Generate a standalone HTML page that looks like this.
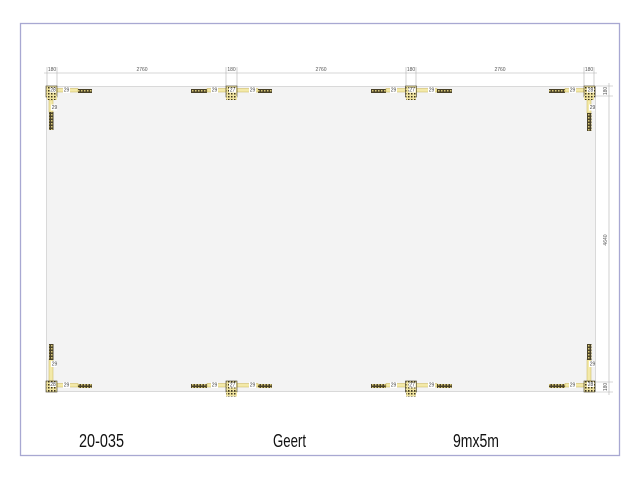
<!DOCTYPE html>
<html>
<head>
<meta charset="utf-8">
<style>
html,body{margin:0;padding:0;background:#fff;}
svg{display:block;}
text{font-family:"Liberation Sans",sans-serif;}
</style>
</head>
<body>
<svg width="640" height="480" viewBox="0 0 640 480" xmlns="http://www.w3.org/2000/svg">
<defs>
  <pattern id="hatch" width="3" height="3" patternUnits="userSpaceOnUse">
    <rect width="3" height="3" fill="#4a4228"/>
    <rect x="0" y="0" width="1.5" height="1.5" fill="#d8c878"/>
  </pattern>
  <pattern id="hatch2" width="3" height="3" patternUnits="userSpaceOnUse">
    <rect width="3" height="3" fill="#f0e4a0"/>
    <rect x="0" y="0" width="1.5" height="1.5" fill="#3d3620"/>
  </pattern>
</defs>

<rect x="20.5" y="23.5" width="599" height="432" fill="#fff" stroke="#a8a8d2" stroke-width="1.3"/>

<rect x="46.5" y="86.5" width="549" height="305" fill="#f3f3f3" stroke="#d9d9d9" stroke-width="1"/>

<g stroke="#b0b0b0" stroke-width="0.6" fill="none">
  <line x1="44" y1="73" x2="597" y2="73"/>
  <line x1="47" y1="67" x2="47" y2="86"/>
  <line x1="57" y1="67" x2="57" y2="86"/>
  <line x1="226" y1="67" x2="226" y2="86"/>
  <line x1="237" y1="67" x2="237" y2="86"/>
  <line x1="406" y1="67" x2="406" y2="86"/>
  <line x1="416" y1="67" x2="416" y2="86"/>
  <line x1="584" y1="67" x2="584" y2="86"/>
  <line x1="594" y1="67" x2="594" y2="86"/>
</g>
<g font-size="5" fill="#555" text-anchor="middle">
  <text x="52" y="71">180</text>
  <text x="142" y="71">2760</text>
  <text x="231.5" y="71">180</text>
  <text x="321" y="71">2760</text>
  <text x="411" y="71">180</text>
  <text x="500" y="71">2760</text>
  <text x="589" y="71">180</text>
</g>

<g stroke="#b0b0b0" stroke-width="0.6" fill="none">
  <line x1="609" y1="83" x2="609" y2="395"/>
  <line x1="596" y1="86" x2="613" y2="86"/>
  <line x1="596" y1="96" x2="613" y2="96"/>
  <line x1="596" y1="382" x2="613" y2="382"/>
  <line x1="596" y1="392" x2="613" y2="392"/>
</g>
<g font-size="5" fill="#555" text-anchor="middle">
  <text transform="translate(607,91) rotate(-90)">180</text>
  <text transform="translate(607,240) rotate(-90)">4640</text>
  <text transform="translate(607,387) rotate(-90)">180</text>
</g>

<g font-size="5" fill="#444" text-anchor="middle">
  <rect x="57" y="88.5" width="21" height="3.5" fill="#f3e9a8" stroke="#c9b458" stroke-width="0.5"/>
  <rect x="63" y="87" width="7" height="6" fill="#fff"/>
  <text x="66.5" y="91.5">29</text>
  <rect x="78" y="89" width="14" height="4" fill="url(#hatch)"/>
  <rect x="49" y="100" width="4" height="12" fill="#f3e9a8" stroke="#c9b458" stroke-width="0.5"/>
  <rect x="51" y="104.5" width="6" height="6" fill="#fff"/>
  <text x="54.5" y="109">29</text>
  <rect x="49" y="112" width="4.5" height="18" fill="url(#hatch)"/>
  <rect x="46" y="86" width="11" height="11" fill="url(#hatch2)" stroke="#3d3620" stroke-width="0.6"/>
  <rect x="50" y="87.5" width="6" height="5" fill="#fff"/>
  <text x="53" y="91.5">28</text>
  <rect x="47" y="96" width="10" height="4" fill="url(#hatch2)"/>

  <rect x="191" y="89" width="16" height="4" fill="url(#hatch)"/>
  <rect x="207" y="88.5" width="19" height="3.5" fill="#f3e9a8" stroke="#c9b458" stroke-width="0.5"/>
  <rect x="211" y="87" width="7" height="6" fill="#fff"/>
  <text x="214.5" y="91.5">29</text>
  <rect x="237" y="88.5" width="21" height="3.5" fill="#f3e9a8" stroke="#c9b458" stroke-width="0.5"/>
  <rect x="249" y="87" width="7" height="6" fill="#fff"/>
  <text x="252.5" y="91.5">29</text>
  <rect x="258" y="89" width="14" height="4" fill="url(#hatch)"/>
  <rect x="226" y="86" width="11" height="11" fill="url(#hatch2)" stroke="#3d3620" stroke-width="0.6"/>
  <rect x="229" y="87.5" width="7" height="5" fill="#fff"/>
  <text x="232.5" y="91.5">27</text>
  <rect x="226" y="96" width="11" height="4" fill="url(#hatch2)"/>

  <rect x="371" y="89" width="15" height="4" fill="url(#hatch)"/>
  <rect x="386" y="88.5" width="20" height="3.5" fill="#f3e9a8" stroke="#c9b458" stroke-width="0.5"/>
  <rect x="390" y="87" width="7" height="6" fill="#fff"/>
  <text x="393.5" y="91.5">29</text>
  <rect x="416" y="88.5" width="21" height="3.5" fill="#f3e9a8" stroke="#c9b458" stroke-width="0.5"/>
  <rect x="428" y="87" width="7" height="6" fill="#fff"/>
  <text x="431.5" y="91.5">29</text>
  <rect x="437" y="89" width="15" height="4" fill="url(#hatch)"/>
  <rect x="405.5" y="86" width="11" height="11" fill="url(#hatch2)" stroke="#3d3620" stroke-width="0.6"/>
  <rect x="408.5" y="87.5" width="7" height="5" fill="#fff"/>
  <text x="412" y="91.5">27</text>
  <rect x="406" y="96" width="10" height="4" fill="url(#hatch2)"/>

  <rect x="549" y="89" width="16" height="4" fill="url(#hatch)"/>
  <rect x="565" y="88.5" width="19" height="3.5" fill="#f3e9a8" stroke="#c9b458" stroke-width="0.5"/>
  <rect x="569" y="87" width="7" height="6" fill="#fff"/>
  <text x="572.5" y="91.5">29</text>
  <rect x="587" y="100" width="4" height="13" fill="#f3e9a8" stroke="#c9b458" stroke-width="0.5"/>
  <rect x="589" y="104.5" width="6" height="6" fill="#fff"/>
  <text x="592.5" y="109">29</text>
  <rect x="587" y="113" width="4.5" height="18" fill="url(#hatch)"/>
  <rect x="584" y="86" width="11" height="11" fill="url(#hatch2)" stroke="#3d3620" stroke-width="0.6"/>
  <rect x="587" y="87.5" width="7" height="5" fill="#fff"/>
  <text x="590.5" y="91.5">28</text>
  <rect x="584" y="96" width="10" height="4" fill="url(#hatch2)"/>
</g>

<g font-size="5" fill="#444" text-anchor="middle">
  <rect x="57" y="383.5" width="21" height="3.5" fill="#f3e9a8" stroke="#c9b458" stroke-width="0.5"/>
  <rect x="63" y="382" width="7" height="6" fill="#fff"/>
  <text x="66.5" y="386.5">29</text>
  <rect x="78" y="384" width="14" height="4" fill="url(#hatch)"/>
  <rect x="49" y="359" width="4" height="23" fill="#f3e9a8" stroke="#c9b458" stroke-width="0.5"/>
  <rect x="51" y="361" width="6" height="6" fill="#fff"/>
  <text x="54.5" y="365.5">29</text>
  <rect x="49" y="344" width="4.5" height="16" fill="url(#hatch)"/>
  <rect x="46" y="381" width="11" height="11" fill="url(#hatch2)" stroke="#3d3620" stroke-width="0.6"/>
  <rect x="50" y="382" width="6" height="5" fill="#fff"/>
  <text x="53" y="386">28</text>

  <rect x="191" y="384" width="16" height="4" fill="url(#hatch)"/>
  <rect x="207" y="383.5" width="19" height="3.5" fill="#f3e9a8" stroke="#c9b458" stroke-width="0.5"/>
  <rect x="211" y="382" width="7" height="6" fill="#fff"/>
  <text x="214.5" y="386.5">29</text>
  <rect x="237" y="383.5" width="21" height="3.5" fill="#f3e9a8" stroke="#c9b458" stroke-width="0.5"/>
  <rect x="249" y="382" width="7" height="6" fill="#fff"/>
  <text x="252.5" y="386.5">29</text>
  <rect x="258" y="384" width="14" height="4" fill="url(#hatch)"/>
  <rect x="226" y="381" width="11" height="11" fill="url(#hatch2)" stroke="#3d3620" stroke-width="0.6"/>
  <rect x="229" y="382.5" width="7" height="5" fill="#fff"/>
  <text x="232.5" y="386.5">27</text>
  <rect x="226" y="392" width="11" height="4.5" fill="url(#hatch2)"/>

  <rect x="371" y="384" width="15" height="4" fill="url(#hatch)"/>
  <rect x="386" y="383.5" width="20" height="3.5" fill="#f3e9a8" stroke="#c9b458" stroke-width="0.5"/>
  <rect x="390" y="382" width="7" height="6" fill="#fff"/>
  <text x="393.5" y="386.5">29</text>
  <rect x="416" y="383.5" width="21" height="3.5" fill="#f3e9a8" stroke="#c9b458" stroke-width="0.5"/>
  <rect x="428" y="382" width="7" height="6" fill="#fff"/>
  <text x="431.5" y="386.5">29</text>
  <rect x="437" y="384" width="15" height="4" fill="url(#hatch)"/>
  <rect x="405.5" y="381" width="11" height="11" fill="url(#hatch2)" stroke="#3d3620" stroke-width="0.6"/>
  <rect x="408.5" y="382.5" width="7" height="5" fill="#fff"/>
  <text x="412" y="386.5">27</text>
  <rect x="406" y="392" width="10" height="4.5" fill="url(#hatch2)"/>

  <rect x="549" y="384" width="16" height="4" fill="url(#hatch)"/>
  <rect x="565" y="383.5" width="19" height="3.5" fill="#f3e9a8" stroke="#c9b458" stroke-width="0.5"/>
  <rect x="569" y="382" width="7" height="6" fill="#fff"/>
  <text x="572.5" y="386.5">29</text>
  <rect x="587" y="359" width="4" height="23" fill="#f3e9a8" stroke="#c9b458" stroke-width="0.5"/>
  <rect x="589" y="361" width="6" height="6" fill="#fff"/>
  <text x="592.5" y="365.5">29</text>
  <rect x="587" y="344" width="4.5" height="16" fill="url(#hatch)"/>
  <rect x="584" y="381" width="11" height="11" fill="url(#hatch2)" stroke="#3d3620" stroke-width="0.6"/>
  <rect x="587" y="382" width="7" height="5" fill="#fff"/>
  <text x="590.5" y="386">28</text>
</g>

<g font-size="18.5" fill="#111">
  <text x="79" y="447" textLength="45" lengthAdjust="spacingAndGlyphs">20-035</text>
  <text x="273" y="447" textLength="33" lengthAdjust="spacingAndGlyphs">Geert</text>
  <text x="453" y="447" textLength="46" lengthAdjust="spacingAndGlyphs">9mx5m</text>
</g>
</svg>
</body>
</html>
